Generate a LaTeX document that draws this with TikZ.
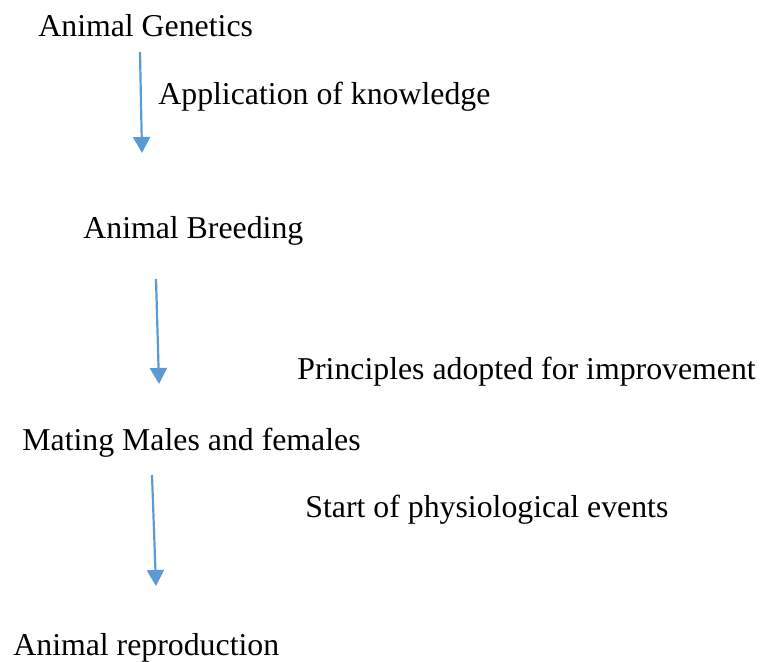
\documentclass[tikz,border=0pt]{standalone}
\usepackage{fontspec}
\setmainfont{Liberation Serif}
\usetikzlibrary{arrows.meta}
\definecolor{flecha}{HTML}{5B9BD5}
\tikzset{
    texto/.style={anchor=base west,inner sep=0pt,font=\fontsize{15.9}{19}\selectfont},
    conector/.style={flecha,line width=1.1pt,-{Triangle[width=8.5pt,length=8pt]}}
}
\begin{document}
\begin{tikzpicture}[x=0.5pt,y=-0.5pt]
    \useasboundingbox (0,0) rectangle (768,662);
    %Textos
    \node[texto] (gen) at (38,37) {Animal Genetics};
    \node[texto] (app) at (158,105) {Application of knowledge};
    \node[texto] (breed) at (83,239) {Animal Breeding};
    \node[texto] (princ) at (297,380) {Principles adopted for improvement};
    \node[texto] (mating) at (22,451) {Mating Males and females};
    \node[texto] (start) at (305,518) {Start of physiological events};
    \node[texto] (repro) at (13,656) {Animal reproduction};

    %Extremos de las flechas
    \coordinate (a1) at (140,52);  \coordinate (b1) at (142,153);
    \coordinate (a2) at (156,279); \coordinate (b2) at (159,384);
    \coordinate (a3) at (152,475); \coordinate (b3) at (156,586);

    %Flechas
    \foreach \i in {1,2,3}{
        \draw[conector] (a\i) -- (b\i);
    }
\end{tikzpicture}
\end{document}
